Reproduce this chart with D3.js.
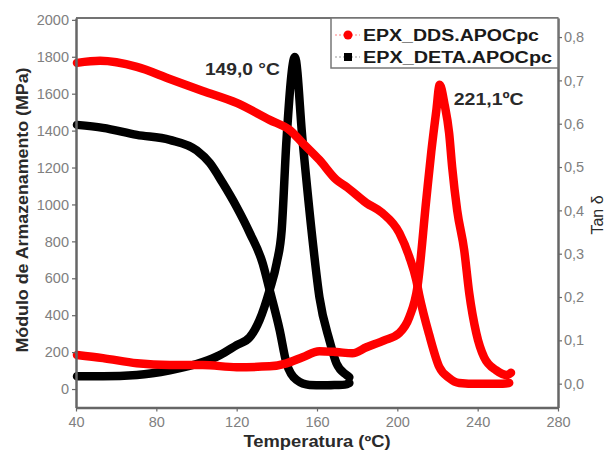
<!DOCTYPE html>
<html>
<head>
<meta charset="utf-8">
<script src="https://cdn.jsdelivr.net/npm/d3@7"></script>
<style>
  html, body { margin: 0; padding: 0; background: #fff; }
  svg { display: block; font-family: "Liberation Sans", Arial, sans-serif; }
</style>
</head>
<body>
<svg id="chart" width="610" height="451"></svg>
<script>
// EPX_DDS.APOCpc — storage modulus (MPa) and tan delta vs temperature (ºC)
const ddsModT = [40.5, 52, 70.3, 86.7, 103.1, 120, 136.4, 146.3, 152.8, 161.2, 169.7, 174.7, 184.6, 192.5, 201, 206, 209.4, 210.9, 215.9, 220.9, 225.8, 230.8, 240, 250, 255.7];
const ddsMod  = [1767, 1778, 1745, 1680, 1615, 1550, 1458, 1404, 1333, 1241, 1133, 1095, 1008, 954, 846, 715, 591, 509, 293, 119, 60, 33, 28, 28, 33];
const ddsTanT = [40.5, 53.4, 70.3, 86.7, 103.1, 120, 136.4, 144.8, 152.8, 161.2, 169.7, 177.6, 184.6, 193.5, 201, 206, 210, 214.4, 216.9, 219.4, 221.1, 223.5, 225.8, 227.3, 229.8, 233.3, 235.8, 239.3, 243.2, 249.2, 254.7, 256.6];
const ddsTan  = [0.066, 0.059, 0.047, 0.043, 0.043, 0.038, 0.040, 0.047, 0.061, 0.075, 0.073, 0.070, 0.084, 0.100, 0.117, 0.154, 0.223, 0.424, 0.535, 0.630, 0.690, 0.645, 0.578, 0.500, 0.400, 0.308, 0.209, 0.117, 0.061, 0.031, 0.020, 0.025];

// EPX_DETA.APOCpc — storage modulus (MPa) and tan delta vs temperature (ºC)
const detaModT = [40.5, 53.4, 70.3, 86.7, 100.1, 106.6, 113, 120, 126.5, 132.9, 136.4, 141.4, 144.8, 149.8, 156.3, 163, 169.7, 174, 176.1];
const detaMod  = [1431, 1415, 1377, 1350, 1293, 1225, 1117, 986, 846, 683, 537, 320, 141, 49, 22, 20, 22, 24, 33];
const detaTanT = [40.5, 53.4, 70.3, 86.7, 103.1, 111.6, 120, 126.5, 131.4, 136.4, 139.9, 142.4, 144.8, 149.0, 152.8, 157.8, 161.2, 166.2, 169.7, 174.7, 176.1];
const detaTan  = [0.017, 0.017, 0.020, 0.031, 0.050, 0.066, 0.089, 0.107, 0.147, 0.216, 0.278, 0.354, 0.562, 0.754, 0.562, 0.331, 0.200, 0.100, 0.047, 0.020, 0.015];

// Peak annotations (Tg from tan delta maximum)
const peakTemps  = [149.0, 221.1];
const peakValues = [0.754, 0.690];
const peakLabels = ["149,0 °C", "221,1ºC"];

// Axis ticks and labels
const xTicks = [40, 80, 120, 160, 200, 240, 280];
const yLeftTicks = [0, 200, 400, 600, 800, 1000, 1200, 1400, 1600, 1800, 2000];
const yRightTicks = [0.0, 0.1, 0.2, 0.3, 0.4, 0.5, 0.6, 0.7, 0.8];
const seriesNames = ["EPX_DDS.APOCpc", "EPX_DETA.APOCpc"];
const seriesColors = ["#ff0000", "#000000"];
const xTitle = "Temperatura (ºC)";
const yLeftTitle = "Módulo de Armazenamento (MPa)";
const yRightTitle = "Tan δ";

const svg = d3.select("#chart");
const pLeft = 76, pRight = 558, pTop = 18, pBottom = 407.5;

const x = d3.scaleLinear().domain([40, 280]).range([pLeft, pRight]);
const yL = d3.scaleLinear().domain([-100, 2010]).range([pBottom, pTop]);
const yR = d3.scaleLinear().domain([-0.055, 0.844]).range([pBottom, pTop]);

const commaLocale = d3.formatLocale({ decimal: ",", thousands: ".", grouping: [3], currency: ["", ""] });
const fmt1 = commaLocale.format(".1f");

const zip = (a, b) => a.map((v, i) => [v, b[i]]);

// Curves
const lineL = d3.line().x(d => x(d[0])).y(d => yL(d[1])).curve(d3.curveMonotoneX);
const lineR = d3.line().x(d => x(d[0])).y(d => yR(d[1])).curve(d3.curveMonotoneX);

function drawCurve(data, gen, color) {
  svg.append("path").datum(data).attr("d", gen)
    .attr("fill", "none").attr("stroke", color).attr("stroke-width", 8.5)
    .attr("stroke-linejoin", "round").attr("stroke-linecap", "round");
}
drawCurve(zip(detaModT, detaMod), lineL, seriesColors[1]);
drawCurve(zip(detaTanT, detaTan), lineR, seriesColors[1]);
drawCurve(zip(ddsTanT, ddsTan), lineR, seriesColors[0]);
drawCurve(zip(ddsModT, ddsMod), lineL, seriesColors[0]);

// Frame top edge
svg.append("line").attr("x1", pLeft).attr("x2", pRight).attr("y1", pTop).attr("y2", pTop)
  .attr("stroke", "#444").attr("stroke-width", 1.5);

// Axes
function styleAxis(g) {
  g.select(".domain").attr("stroke", "#666").attr("stroke-width", 2.5);
  g.selectAll(".tick line").attr("stroke", "#666").attr("stroke-width", 1.2);
  g.selectAll(".tick text").attr("fill", "#808080").attr("font-size", 14.5)
    .attr("font-family", "'Liberation Sans', Arial, sans-serif");
}
svg.append("g").attr("transform", `translate(0,${pBottom})`)
  .call(d3.axisBottom(x).tickValues(xTicks).tickSize(4).tickPadding(5).tickSizeOuter(0).tickFormat(d3.format("d")))
  .call(styleAxis);
svg.append("g").attr("transform", `translate(${pLeft},0)`)
  .call(d3.axisLeft(yL).tickValues(yLeftTicks).tickSize(4).tickPadding(3).tickSizeOuter(0).tickFormat(d3.format("d")))
  .call(styleAxis);
svg.append("g").attr("transform", `translate(${pRight},0)`)
  .call(d3.axisRight(yR).tickValues(yRightTicks).tickSize(4).tickPadding(2).tickSizeOuter(0).tickFormat(fmt1))
  .call(styleAxis);

// Axis titles
svg.append("text").attr("x", x(160)).attr("y", 447).attr("text-anchor", "middle")
  .attr("font-size", 16).attr("font-weight", "bold").attr("fill", "#2a2a2a")
  .attr("textLength", 147).attr("lengthAdjust", "spacingAndGlyphs").text(xTitle);
svg.append("text").attr("transform", "translate(28,210) rotate(-90)").attr("text-anchor", "middle")
  .attr("font-size", 16).attr("font-weight", "bold").attr("fill", "#2a2a2a")
  .attr("textLength", 285).attr("lengthAdjust", "spacingAndGlyphs").text(yLeftTitle);
svg.append("text").attr("transform", "translate(603,215) rotate(-90)").attr("text-anchor", "middle")
  .attr("font-size", 16).attr("fill", "#2a2a2a").text(yRightTitle);

// Peak labels
svg.append("text").attr("x", x(peakTemps[0]) - 15).attr("y", yR(peakValues[0]) + 18)
  .attr("text-anchor", "end").attr("font-size", 17).attr("font-weight", "bold").attr("fill", "#2a2a2a")
  .attr("textLength", 75).attr("lengthAdjust", "spacingAndGlyphs").text(peakLabels[0]);
svg.append("text").attr("x", x(peakTemps[1]) + 14).attr("y", yR(peakValues[1]) + 20)
  .attr("text-anchor", "start").attr("font-size", 17).attr("font-weight", "bold").attr("fill", "#2a2a2a")
  .attr("textLength", 70).attr("lengthAdjust", "spacingAndGlyphs").text(peakLabels[1]);

// Legend
const lg = svg.append("g");
lg.append("rect").attr("x", 331).attr("y", pTop).attr("width", pRight - 331).attr("height", 50)
  .attr("fill", "#fff").attr("stroke", "#777").attr("stroke-width", 1.5);
const legendY = [35, 57];
const legendW = [176, 189];
seriesNames.forEach((name, i) => {
  const g = lg.append("g");
  g.append("line").attr("x1", 335).attr("x2", 360).attr("y1", legendY[i]).attr("y2", legendY[i])
    .attr("stroke", i === 0 ? "#ff8080" : "#999").attr("stroke-width", 1.2).attr("stroke-dasharray", "2,2");
  if (i === 0) {
    g.append("circle").attr("cx", 348).attr("cy", legendY[i]).attr("r", 4.5).attr("fill", seriesColors[i]);
  } else {
    g.append("rect").attr("x", 344).attr("y", legendY[i] - 4).attr("width", 8).attr("height", 8).attr("fill", seriesColors[i]);
  }
  g.append("text").attr("x", 363).attr("y", legendY[i] + 6).attr("font-size", 16).attr("font-weight", "bold")
    .attr("fill", "#1a1a1a").attr("textLength", legendW[i]).attr("lengthAdjust", "spacingAndGlyphs").text(name);
});
</script>
</body>
</html>
